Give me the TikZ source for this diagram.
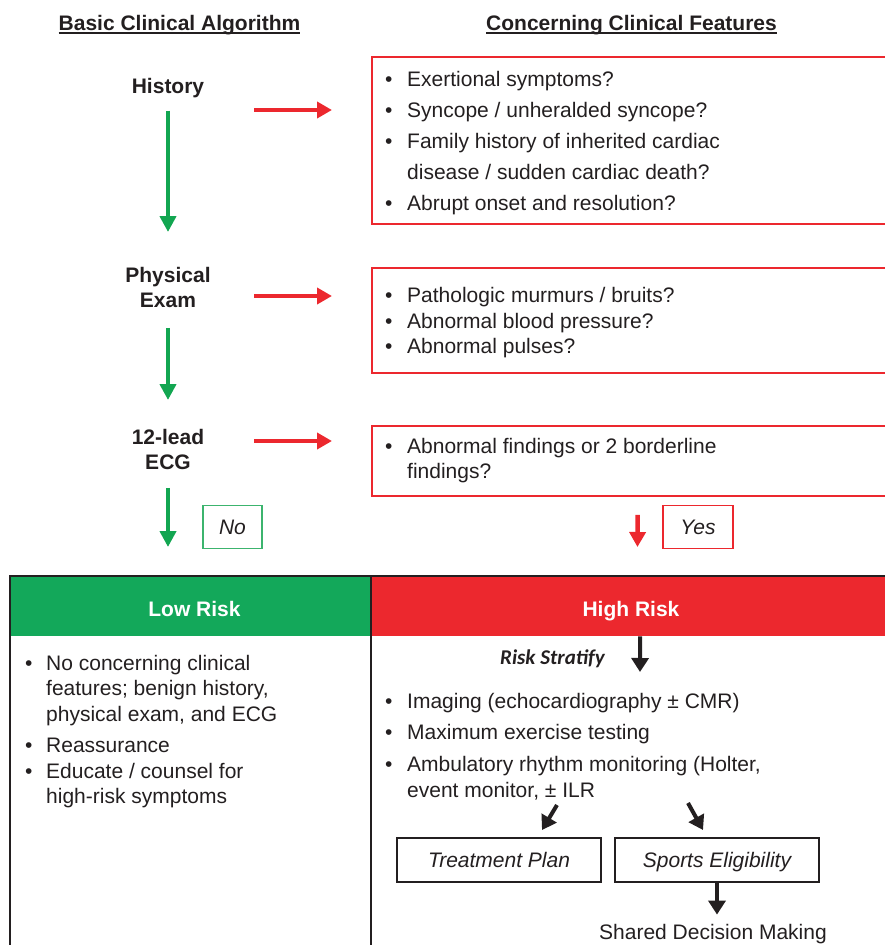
\documentclass[tikz,border=0pt]{standalone}
\usepackage{fontspec}
\setmainfont{Liberation Sans}
\newfontfamily\calfont{Carlito}
\usetikzlibrary{arrows.meta}

\definecolor{ink}{RGB}{35,31,32}
\definecolor{okgreen}{RGB}{18,166,81}
\definecolor{hdrgreen}{RGB}{19,168,90}
\definecolor{alertred}{RGB}{236,40,46}
\definecolor{boxgreen}{RGB}{60,180,110}

% bullet column and hanging indent for wrapped lines
\newcommand\bul[1][22pt]{\makebox[#1][l]{\textbullet}}
\newcommand\cont[1][22pt]{\hspace*{#1}}

\tikzset{
  txt/.style={font=\fontsize{21}{25}\selectfont, text=ink, inner sep=0pt, anchor=base west},
  algstep/.style={font=\fontsize{21}{25}\selectfont\bfseries, text=ink, inner sep=0pt, align=center},
  colhead/.style={font=\fontsize{21}{25}\selectfont\bfseries, text=ink, inner sep=0pt, anchor=base},
  hdrlabel/.style={font=\fontsize{21}{25}\selectfont\bfseries, text=white, inner sep=0pt, anchor=base},
  garrow/.style={draw=okgreen, line width=4.5pt, -{Triangle[length=16pt,width=16pt]}},
  rarrow/.style={draw=alertred, line width=4.5pt, -{Triangle[length=15pt,width=16pt]}},
  barrow/.style={draw=ink, line width=4pt, -{Triangle[length=14pt,width=17pt]}},
  redbox/.style={draw=alertred, line width=1.8pt, inner sep=0pt, anchor=north west},
  answer/.style={line width=1.3pt, inner sep=0pt, font=\fontsize{21}{25}\selectfont\itshape,
    text=ink, text height=15pt, text depth=0pt, minimum height=43pt},
  plainbox/.style={draw=ink, line width=1.2pt, inner sep=0pt, font=\fontsize{21}{25}\selectfont\itshape,
    text=ink, text height=15pt, text depth=0pt, minimum width=204pt, minimum height=44pt},
  tblline/.style={draw=ink, line width=2pt},
}

\begin{document}
\begin{tikzpicture}[x=1pt,y=-1pt]
\useasboundingbox (0,0) rectangle (885,945);
\clip (0,0) rectangle (885,945);

% column headings
\node[colhead] (hdL) at (179.5,30) {Basic Clinical Algorithm};
\node[colhead] (hdR) at (631.5,30) {Concerning Clinical Features};
\draw[ink, line width=1.8pt] ([yshift=-3pt]hdL.base west) -- ([yshift=-3pt]hdL.base east);
\draw[ink, line width=1.8pt] ([yshift=-3pt]hdR.base west) -- ([yshift=-3pt]hdR.base east);

% algorithm steps
\node[algstep, anchor=base] (hist) at (168,93) {History};
\node[algstep, anchor=north] (phys) at (168,267) {Physical\\Exam};
\node[algstep, anchor=north] (ecg) at (168,429) {12-lead\\ECG};

% concerning features boxes
\node[redbox, minimum width=520pt, minimum height=167pt] (box1) at (371,56) {};
\node[redbox, minimum width=520pt, minimum height=105pt] (box2) at (371,267) {};
\node[redbox, minimum width=520pt, minimum height=70pt] (box3) at (371,425) {};

\foreach \yy/\lbl [count=\i] in {
  86/{\bul Exertional symptoms?},
  117/{\bul Syncope / unheralded syncope?},
  148/{\bul Family history of inherited cardiac},
  179/{\cont disease / sudden cardiac death?},
  210/{\bul Abrupt onset and resolution?}}
  \node[txt] (hx-\i) at (385,\yy) {\lbl};

\foreach \yy/\lbl [count=\i] in {
  302/{\bul Pathologic murmurs / bruits?},
  328/{\bul Abnormal blood pressure?},
  353/{\bul Abnormal pulses?}}
  \node[txt] (pe-\i) at (385,\yy) {\lbl};

\foreach \yy/\lbl [count=\i] in {
  453/{\bul Abnormal findings or 2 borderline},
  478/{\cont findings?}}
  \node[txt] (ek-\i) at (385,\yy) {\lbl};

% risk table header
\node[fill=hdrgreen, inner sep=0pt, anchor=north west, minimum width=361pt, minimum height=60pt] (lowhdr) at (10,576) {};
\node[fill=alertred, inner sep=0pt, anchor=north west, minimum width=520pt, minimum height=60pt] (highhdr) at (371,576) {};
\node[hdrlabel] (lowlbl) at (194.5,616) {Low Risk};
\node[hdrlabel] (highlbl) at (631,616) {High Risk};
\draw[tblline] (10,950) -- (10,576) -- (891,576);
\draw[tblline] (371,576) -- (371,950);

% answers
\node[answer, draw=boxgreen, minimum width=59pt] (nobox) at (232.5,527) {No};
\node[answer, draw=alertred, minimum width=70pt] (yesbox) at (698,527) {Yes};

% flow arrows of the algorithm
\draw[garrow, shorten <=13pt, shorten >=35pt] (hist) -- (hist |- phys.north);
\draw[garrow, shorten <=20pt, shorten >=29pt] (phys.south) -- (ecg.north);
\draw[garrow, shorten <=18pt, shorten >=29pt] (ecg.south) -- (ecg.south |- lowhdr.north);

\coordinate (r1) at (254,110);
\coordinate (r2) at (254,296);
\coordinate (r3) at (254,441);
\draw[rarrow, shorten >=39pt] (r1) -- (r1 -| box1.west);
\draw[rarrow, shorten >=39pt] (r2) -- (r2 -| box2.west);
\draw[rarrow, shorten >=39pt] (r3) -- (r3 -| box3.west);
\draw[rarrow, shorten <=18pt, shorten >=29pt] ([xshift=6pt]box3.south) -- ([xshift=6pt]highhdr.north);

% low risk column
\foreach \yy/\lbl [count=\i] in {
  670/{\bul[21pt]No concerning clinical},
  695/{\cont[21pt]features; benign history,},
  721/{\cont[21pt]physical exam, and ECG},
  752/{\bul[21pt]Reassurance},
  778/{\bul[21pt]Educate / counsel for},
  803/{\cont[21pt]high-risk symptoms}}
  \node[txt] (lr-\i) at (25,\yy) {\lbl};

% high risk column
\node[font=\calfont\bfseries\itshape\fontsize{21}{24}\selectfont, text=ink, inner sep=0pt, anchor=base east] (strat) at (605,664) {Risk Stratify};
\coordinate (stratEnd) at (640,672);
\draw[barrow] ([xshift=9pt]highhdr.south) -- (stratEnd);

\foreach \yy/\lbl [count=\i] in {
  708/{\bul Imaging (echocardiography ± CMR)},
  739/{\bul Maximum exercise testing},
  771/{\bul Ambulatory rhythm monitoring (Holter,},
  797/{\cont event monitor, ± ILR}}
  \node[txt] (hr-\i) at (385,\yy) {\lbl};

\node[plainbox] (treat) at (499,860) {Treatment Plan};
\node[plainbox] (sports) at (717,860) {Sports Eligibility};
\node[txt, anchor=base] (sdm) at (713,939) {Shared Decision Making};

\coordinate (tpFrom) at (557,805);
\coordinate (tpTo) at (542,830);
\coordinate (seFrom) at (688,803);
\coordinate (seTo) at (703,830);
\draw[barrow] (tpFrom) -- (tpTo);
\draw[barrow] (seFrom) -- (seTo);
\draw[barrow, shorten >=9pt] (sports.south) -- (sports.south |- sdm.north);
\end{tikzpicture}
\end{document}
